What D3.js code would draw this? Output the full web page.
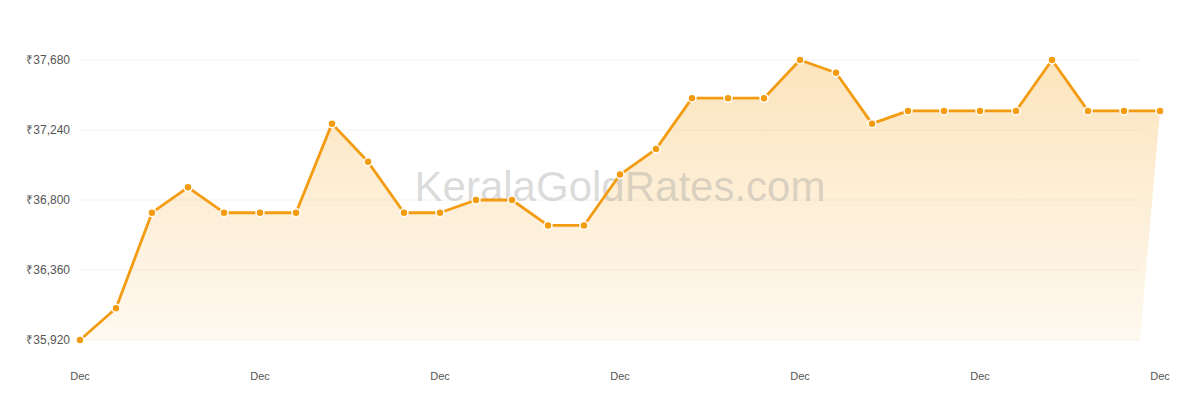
<!DOCTYPE html>
<html>
<head>
<meta charset="utf-8">
<script src="https://cdn.jsdelivr.net/npm/d3@7"></script>
<style>
  body { margin: 0; background: #fff; }
  svg { display: block; font-family: "Liberation Sans", Arial, sans-serif; }
</style>
</head>
<body>
<svg id="chart"></svg>
<script>
// daily gold rate (8g), December
const days = d3.range(1, 32);
const rates = [
  35920, 36120, 36720, 36880, 36720, 36720, 36720, 37280, 37040, 36720,
  36720, 36800, 36800, 36640, 36640, 36960, 37120, 37440, 37440, 37440,
  37680, 37600, 37280, 37360, 37360, 37360, 37360, 37680, 37360, 37360,
  37360
];
const yTicks = [35920, 36360, 36800, 37240, 37680];
const xTickDays = [1, 6, 11, 16, 21, 26, 31];
const xTickLabel = 'Dec';

const width = 1200;
const height = 400;
const margin = { top: 60, right: 40, bottom: 60, left: 80 };

const svg = d3.select('#chart').attr('width', width).attr('height', height);

const x = d3.scaleLinear()
  .domain([1, 31])
  .range([margin.left, width - margin.right]);

const y = d3.scaleLinear()
  .domain([35920, 37680])
  .range([height - margin.bottom, margin.top]);

const gridEnd = width - margin.right - 20;

// gradient fill
const defs = svg.append('defs');
const grad = defs.append('linearGradient')
  .attr('id', 'areaGrad')
  .attr('x1', 0).attr('y1', 0).attr('x2', 0).attr('y2', 1);
grad.append('stop').attr('offset', '0%').attr('stop-color', '#f5a623').attr('stop-opacity', 0.3);
grad.append('stop').attr('offset', '100%').attr('stop-color', '#f5a623').attr('stop-opacity', 0.07);

// gridlines
svg.append('g')
  .selectAll('line')
  .data(yTicks)
  .enter()
  .append('line')
  .attr('x1', margin.left)
  .attr('x2', gridEnd)
  .attr('y1', (d) => y(d))
  .attr('y2', (d) => y(d))
  .attr('stroke', '#f3f3f3')
  .attr('stroke-width', 1);

// y labels
svg.append('g')
  .selectAll('text')
  .data(yTicks)
  .enter()
  .append('text')
  .attr('x', margin.left - 10)
  .attr('y', (d) => y(d))
  .attr('dy', '0.35em')
  .attr('text-anchor', 'end')
  .attr('font-size', 12)
  .attr('fill', '#555')
  .text((d) => '₹' + d3.format(',')(d));

// x labels
svg.append('g')
  .selectAll('text')
  .data(xTickDays)
  .enter()
  .append('text')
  .attr('x', (d) => x(d))
  .attr('y', height - margin.bottom + 40)
  .attr('text-anchor', 'middle')
  .attr('font-size', 11)
  .attr('fill', '#555')
  .text(xTickLabel);

// area (bottom right corner ends at grid end)
const pts = days.map((d, i) => [x(d), y(rates[i])]);
const areaPts = pts.concat([[gridEnd, y.range()[0]], [x(1), y.range()[0]]]);
svg.append('path')
  .attr('d', d3.line()(areaPts) + 'Z')
  .attr('fill', 'url(#areaGrad)');

// watermark
svg.append('text')
  .attr('x', 620)
  .attr('y', 201)
  .attr('text-anchor', 'middle')
  .attr('font-size', 42)
  .attr('fill', '#999')
  .attr('fill-opacity', 0.35)
  .text('KeralaGoldRates.com');

// line
svg.append('path')
  .datum(rates)
  .attr('fill', 'none')
  .attr('stroke', '#f39c12')
  .attr('stroke-width', 2.8)
  .attr('stroke-linejoin', 'round')
  .attr('d', d3.line().x((d, i) => x(days[i])).y((d) => y(d)));

// markers
svg.append('g')
  .selectAll('circle')
  .data(rates)
  .enter()
  .append('circle')
  .attr('cx', (d, i) => x(days[i]))
  .attr('cy', (d) => y(d))
  .attr('r', 4)
  .attr('fill', '#f39c12')
  .attr('stroke', '#fff')
  .attr('stroke-width', 1.5);
</script>
</body>
</html>
